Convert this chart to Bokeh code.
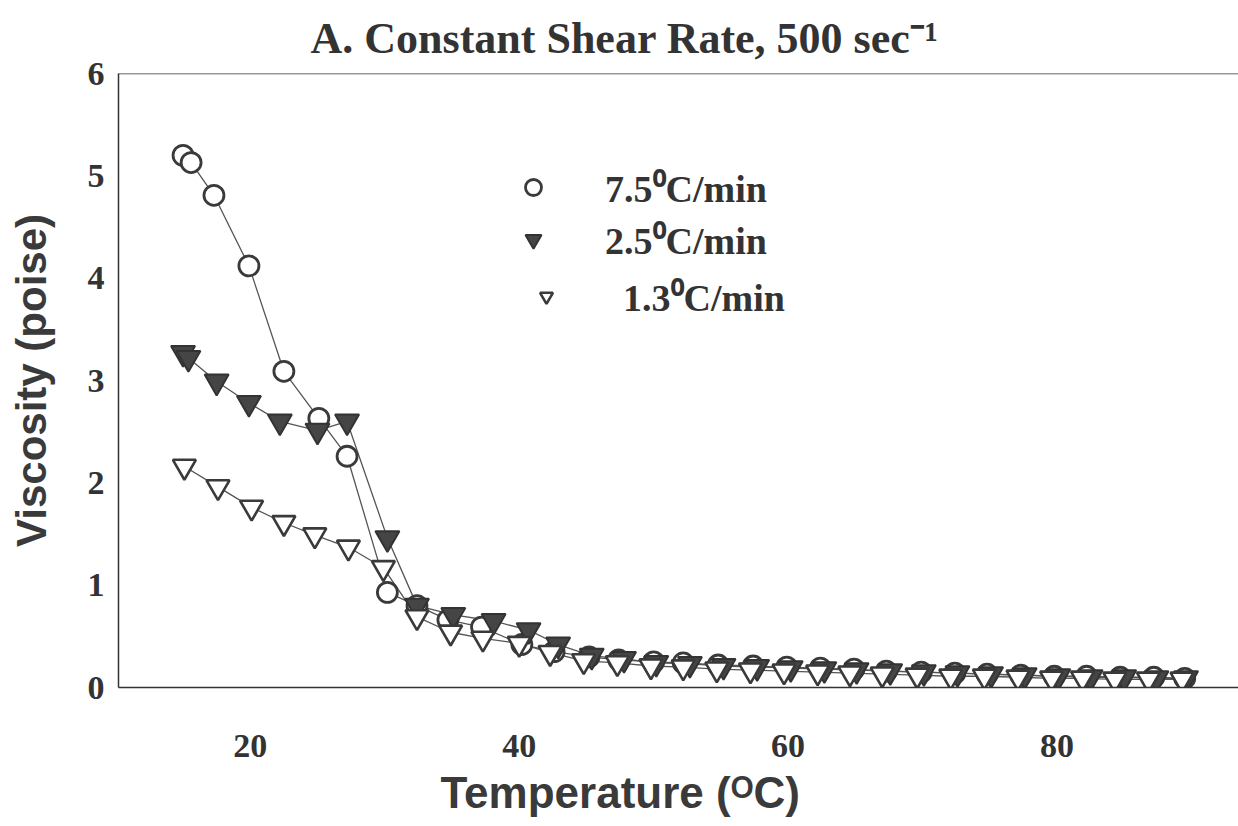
from bokeh.plotting import figure
from bokeh.models import Range1d, FixedTicker, Span, Legend, LegendItem, Title
from bokeh.embed import file_html
from bokeh.resources import INLINE

# ---- data ----
t75 = [15.0, 15.6, 17.3, 19.9, 22.5, 25.1, 27.2, 30.2, 32.4, 34.7, 37.2, 40.2, 42.6, 45.2, 47.4, 50.0,
       52.2, 54.8, 57.4, 59.9, 62.4, 64.9, 67.3, 69.9, 72.4, 74.8, 77.3, 79.8, 82.2, 84.7, 87.2, 89.5]
v75 = [5.20, 5.13, 4.81, 4.12, 3.09, 2.63, 2.26, 0.93, 0.80, 0.66, 0.59, 0.42, 0.35, 0.30, 0.27, 0.25,
       0.24, 0.22, 0.21, 0.20, 0.19, 0.18, 0.16, 0.15, 0.14, 0.13, 0.12, 0.11, 0.11, 0.10, 0.10, 0.09]

t25 = [15.0, 15.4, 17.5, 19.9, 22.2, 25.0, 27.2, 30.2, 32.4, 35.1, 38.1, 40.7, 42.9, 45.4, 47.8, 50.2,
       52.7, 55.2, 57.7, 60.2, 62.7, 65.1, 67.6, 70.1, 72.6, 75.1, 77.6, 80.1, 82.5, 85.0, 87.4, 89.6]
v25 = [3.27, 3.22, 2.99, 2.78, 2.60, 2.51, 2.60, 1.46, 0.80, 0.71, 0.65, 0.56, 0.42, 0.31, 0.28, 0.24,
       0.23, 0.21, 0.20, 0.19, 0.18, 0.17, 0.16, 0.15, 0.14, 0.13, 0.12, 0.11, 0.10, 0.10, 0.09, 0.09]

t13 = [15.1, 17.6, 20.1, 22.5, 24.8, 27.3, 29.9, 32.4, 34.9, 37.3, 40.0, 42.3, 44.8, 47.3, 49.8, 52.2,
       54.7, 57.2, 59.7, 62.2, 64.6, 67.0, 69.6, 72.1, 74.6, 77.1, 79.6, 81.9, 84.3, 86.8, 89.3]
v13 = [2.16, 1.96, 1.76, 1.61, 1.49, 1.37, 1.17, 0.69, 0.54, 0.48, 0.43, 0.34, 0.26, 0.24, 0.21, 0.20,
       0.18, 0.17, 0.16, 0.15, 0.14, 0.13, 0.12, 0.11, 0.11, 0.10, 0.09, 0.09, 0.08, 0.08, 0.08]

labels = ["7.5\u2070C/min", "2.5\u2070C/min", "1.3\u2070C/min"]
x_ticks = [20, 40, 60, 80]
y_ticks = [0, 1, 2, 3, 4, 5, 6]
x_title = "Temperature (\u1d3cC)"
y_title = "Viscosity (poise)"
chart_title = "A. Constant Shear Rate, 500 sec\u207b\u00b9"

INK = "#333333"
SERIF = "Liberation Serif"
SANS = "Liberation Sans"

p = figure(width=1238, height=826, output_backend="svg", toolbar_location=None,
           x_range=Range1d(10.2, 93.5), y_range=Range1d(0, 6),
           min_border_left=118, min_border_right=0, min_border_top=72, min_border_bottom=139,
           title=chart_title)

# the original figure is cropped on the right, so its titles sit left of the frame centre
p.title.text_font = SERIF
p.title.text_font_size = "44px"
p.title.text_font_style = "bold"
p.title.text_color = INK
p.title.align = "left"
p.title.offset = 192
p.title.standoff = 22

p.outline_line_color = None
p.background_fill_color = "white"
p.border_fill_color = "white"
p.xgrid.visible = False
p.ygrid.visible = False

# top frame line
p.add_layout(Span(location=6, dimension="width", line_color=INK, line_width=1.5))

for ax in (p.xaxis[0], p.yaxis[0]):
    ax.axis_line_color = INK
    ax.axis_line_width = 1.5
    ax.major_tick_out = 0
    ax.major_tick_in = 0
    ax.minor_tick_out = 0
    ax.minor_tick_in = 0
    ax.major_label_text_font = SERIF
    ax.major_label_text_font_size = "34px"
    ax.major_label_text_font_style = "bold"
    ax.major_label_text_color = INK
    ax.axis_label_text_font = SANS
    ax.axis_label_text_font_size = "42px"
    ax.axis_label_text_font_style = "bold"
    ax.axis_label_text_color = "#3a3a3a"

p.xaxis[0].ticker = FixedTicker(ticks=x_ticks)
p.yaxis[0].ticker = FixedTicker(ticks=y_ticks)
p.yaxis[0].axis_label = y_title
p.xaxis[0].major_label_standoff = 47
p.yaxis[0].major_label_standoff = 14
p.yaxis[0].axis_label_standoff = 30

p.add_layout(Title(text=x_title, align="left", offset=322, standoff=12,
                   text_font=SANS, text_font_size="44px", text_font_style="bold",
                   text_color="#3a3a3a"), "below")

LINE = "#555555"
p.line(t75, v75, line_color=LINE, line_width=1.3)
p.line(t25, v25, line_color=LINE, line_width=1.3)
p.line(t13, v13, line_color=LINE, line_width=1.3)

r75 = p.scatter(t75, v75, marker="circle", size=20, fill_color="white",
                line_color="#3a3a3a", line_width=2.8)
r25 = p.scatter(t25, v25, marker="inverted_triangle", size=24, fill_color="#454545",
                line_color=INK, line_width=2.0)
r13 = p.scatter(t13, v13, marker="inverted_triangle", size=23, fill_color="white",
                line_color="#3a3a3a", line_width=2.6)

leg1 = Legend(items=[LegendItem(label=labels[0], renderers=[r75]),
                     LegendItem(label=labels[1], renderers=[r25])],
              location=(395, 422), orientation="vertical",
              glyph_width=40, glyph_height=40, label_standoff=52, spacing=0,
              padding=0, margin=0, border_line_color=None, background_fill_alpha=0,
              label_text_font=SERIF, label_text_font_size="38px", label_text_font_style="bold",
              label_text_color=INK, label_height=40)
leg2 = Legend(items=[LegendItem(label=labels[2], renderers=[r13])],
              location=(412, 365), orientation="vertical",
              glyph_width=32, glyph_height=32, label_standoff=61, spacing=0,
              padding=0, margin=0, border_line_color=None, background_fill_alpha=0,
              label_text_font=SERIF, label_text_font_size="38px", label_text_font_style="bold",
              label_text_color=INK, label_height=32)
p.add_layout(leg1, "center")
p.add_layout(leg2, "center")

open("out.html", "w").write(file_html(p, INLINE))
